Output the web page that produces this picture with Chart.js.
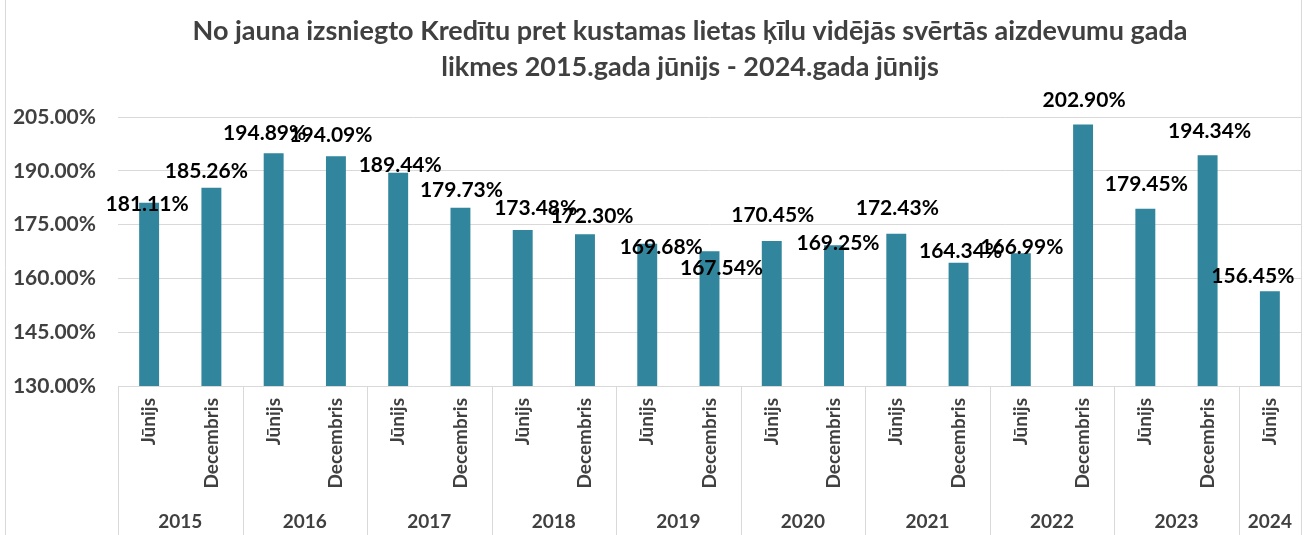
<!DOCTYPE html>
<html>
<head>
<meta charset="utf-8">
<script src="https://cdn.jsdelivr.net/npm/chart.js@4.4.1/dist/chart.umd.min.js"></script>
<style>
  html, body { margin: 0; padding: 0; background: #fff; }
  #wrap { width: 1305px; height: 535px; }
</style>
</head>
<body>
<div id="wrap"><canvas id="chart" width="1305" height="535"></canvas></div>
<script>
// data
const months = ["Jūnijs", "Decembris", "Jūnijs", "Decembris", "Jūnijs", "Decembris", "Jūnijs", "Decembris",
  "Jūnijs", "Decembris", "Jūnijs", "Decembris", "Jūnijs", "Decembris", "Jūnijs", "Decembris",
  "Jūnijs", "Decembris", "Jūnijs"];
const years = ["2015", "2016", "2017", "2018", "2019", "2020", "2021", "2022", "2023", "2024"];
const rates = [181.11, 185.26, 194.89, 194.09, 189.44, 179.73, 173.48, 172.30, 169.68, 167.54,
  170.45, 169.25, 172.43, 164.34, 166.99, 202.90, 179.45, 194.34, 156.45];
const titleLines = [
  "No jauna izsniegto Kredītu pret kustamas lietas ķīlu vidējās svērtās aizdevumu gada",
  "likmes 2015.gada jūnijs - 2024.gada jūnijs"
];

// where each value label sits relative to its bar top (Excel placed them by hand)
const labelNudge = [[-2, 2], [-5, -17], [-9, -20], [-5, -21], [2, -8], [1, -17], [13, -22], [7, -18],
  [14, 4], [12, 17], [1, -26], [4, -2], [1, -26], [2, -12], [1, -6], [1, -24], [1, -24], [2, -24], [-17, -15]];

const FONT = "Lato, 'Open Sans', sans-serif";
const TEXT = "#404040";
const GRID = "#d9d9d9";

const labels = months.map((m, i) => m + " " + i);

// title, frame, value labels and the two-level category axis
const decorations = {
  id: "decorations",
  afterDraw(chart) {
    const { ctx, chartArea, scales } = chart;
    const x = scales.x, y = scales.y;
    ctx.save();

    // frame
    ctx.strokeStyle = GRID;
    ctx.lineWidth = 1;
    ctx.beginPath();
    ctx.moveTo(5.5, 0); ctx.lineTo(5.5, 535);
    ctx.moveTo(1301.5, 0); ctx.lineTo(1301.5, 535);
    ctx.stroke();

    // title
    ctx.fillStyle = TEXT;
    ctx.font = "bold 27px " + FONT;
    ctx.textAlign = "center";
    ctx.textBaseline = "middle";
    titleLines.forEach((t, i) => ctx.fillText(t, 690, 31 + i * 36));

    // value labels
    ctx.fillStyle = "#000";
    ctx.font = "bold 21px " + FONT;
    rates.forEach((v, i) => {
      const [dx, dy] = labelNudge[i];
      ctx.fillText(v.toFixed(2) + "%", x.getPixelForValue(i) + dx, y.getPixelForValue(v) + dy);
    });

    // month labels, rotated
    ctx.fillStyle = TEXT;
    ctx.font = "bold 19px " + FONT;
    months.forEach((m, i) => {
      ctx.save();
      ctx.translate(x.getPixelForValue(i), chartArea.bottom + 12);
      ctx.rotate(-Math.PI / 2);
      ctx.textAlign = "right";
      ctx.textBaseline = "middle";
      ctx.fillText(m, 0, 0);
      ctx.restore();
    });

    // year groups and separators
    const half = (x.getPixelForValue(1) - x.getPixelForValue(0)) / 2;
    ctx.strokeStyle = GRID;
    ctx.beginPath();
    years.forEach((yr, k) => {
      const first = k * 2;
      const last = Math.min(first + 1, rates.length - 1);
      const left = x.getPixelForValue(first) - half;
      const right = x.getPixelForValue(last) + half;
      ctx.moveTo(Math.round(left) + 0.5, chartArea.bottom);
      ctx.lineTo(Math.round(left) + 0.5, 535);
      if (k === years.length - 1) {
        ctx.moveTo(Math.round(right) + 0.5, chartArea.bottom);
        ctx.lineTo(Math.round(right) + 0.5, 535);
      }
      ctx.textAlign = "center";
      ctx.textBaseline = "middle";
      ctx.fillText(yr, (left + right) / 2, 522);
    });
    ctx.stroke();

    ctx.restore();
  }
};

new Chart(document.getElementById("chart"), {
  type: "bar",
  data: {
    labels,
    datasets: [{
      data: rates,
      backgroundColor: "#31859C",
      barPercentage: 0.32,
      categoryPercentage: 1
    }]
  },
  options: {
    responsive: false,
    animation: false,
    events: [],
    layout: { padding: { top: 117, right: 4, left: 0, bottom: 0 } },
    plugins: {
      legend: { display: false },
      tooltip: { enabled: false },
      title: { display: false }
    },
    scales: {
      x: {
        grid: { display: false },
        border: { display: false },
        ticks: { display: false },
        afterFit(scale) { scale.height = 149; }
      },
      y: {
        min: 130,
        max: 205,
        grid: { color: GRID, drawTicks: false },
        border: { display: false },
        ticks: {
          stepSize: 15,
          padding: 22,
          color: TEXT,
          font: { family: FONT, size: 21, weight: "bold" },
          callback: v => v.toFixed(2) + "%"
        },
        afterFit(scale) { scale.width = 118; }
      }
    }
  },
  plugins: [decorations]
});
</script>
</body>
</html>
